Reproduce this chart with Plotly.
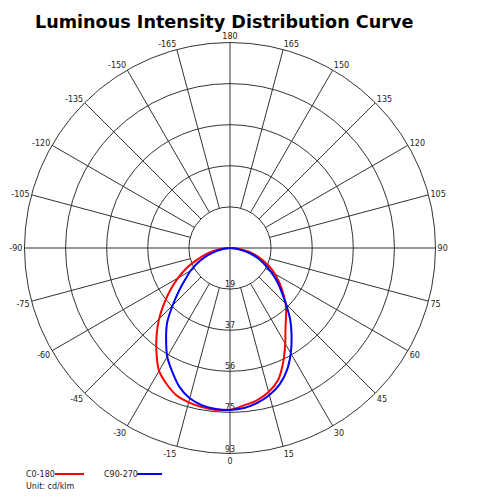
import plotly.graph_objects as go

# ---- data ----
angles = list(range(-90, 91, 5))
c0_180 = [0, 3, 7.2, 11.6, 16.1, 21.9, 27.1, 32.8, 38.8, 45.4, 51.7, 58, 64.2, 67.9, 70.9, 72.3, 73.1, 73.6,
          73.2, 71.5, 70, 67.5, 63.6, 57, 50, 43.8, 39.5, 35.6, 31.2, 27.2, 23.5, 19.5, 15.5, 11.6, 7.2, 3, 0]
c90_270 = [0, 2, 4.1, 8, 12.1, 16.5, 20.6, 24.7, 30.1, 36.7, 44.3, 50.4, 56.8, 61.8, 66.9, 70.4, 72.3, 73.1,
           73.3, 72.7, 71.2, 68.9, 65.7, 61, 55, 48.6, 42.4, 35.8, 30.3, 25.8, 21.2, 17.1, 13.3, 9.6, 5, 2.3, 0]
series_names = ["C0-180", "C90-270"]
series_colors = ["#ff0000", "#0000ff"]
r_max = 93
r_tickvals = [18.6, 37.2, 55.8, 74.4, 93]
r_ticktext = ["19", "37", "56", "75", "93"]
theta_ticks = list(range(0, 360, 15))
theta_text = [str(a) if a <= 180 else str(a - 360) for a in theta_ticks]
unit_text = "Unit: cd/klm"
title_text = "Luminous Intensity Distribution Curve"

GRID = "#333333"
FONT = "DejaVu Sans, Verdana, sans-serif"

# page has an 8px body margin: work in window pixels and convert
OFF = 8
W, H = 494 - 2 * OFF, 500 - 2 * OFF


def px(x):
    return (x - OFF) / W


def py(y):
    return 1 - (y - OFF) / H


fig = go.Figure()

# spokes (grid): only the main axes go through the center
sr, st = [], []
for a in theta_ticks:
    start = 0 if a % 90 == 0 else r_tickvals[0]
    sr += [start, r_max, None]
    st += [a, a, None]
fig.add_trace(go.Scatterpolar(r=sr, theta=st, mode="lines",
                              line=dict(color=GRID, width=1), hoverinfo="skip", showlegend=False))

for name, vals, col in zip(series_names, [c0_180, c90_270], series_colors):
    fig.add_trace(go.Scatterpolar(r=vals, theta=angles, mode="lines", name=name,
                                  line=dict(color=col, width=2, shape="spline", smoothing=1),
                                  showlegend=False))

# radial tick labels along the bottom axis
fig.add_trace(go.Scatterpolar(r=r_tickvals, theta=[0] * len(r_tickvals), mode="text",
                              text=r_ticktext, textposition="top center",
                              textfont=dict(size=8, color="#222", family=FONT),
                              hoverinfo="skip", showlegend=False))

cx, cy, R = 230, 248, 205.5
fig.update_layout(
    width=W, height=H,
    margin=dict(l=0, r=0, t=0, b=0),
    paper_bgcolor="white", plot_bgcolor="white",
    font=dict(family=FONT, size=8, color="#222"),
    title=dict(text=title_text, x=px(35), xanchor="left", y=py(22), yanchor="middle",
               font=dict(family=FONT, size=17.6, color="black", weight="bold")),
    polar=dict(
        domain=dict(x=[px(cx - R), px(cx + R)], y=[py(cy + R), py(cy - R)]),
        bgcolor="white",
        angularaxis=dict(rotation=-90, direction="counterclockwise",
                         tickvals=theta_ticks, ticktext=theta_text, ticks="",
                         showgrid=False, showline=True, linecolor=GRID, linewidth=1,
                         tickfont=dict(size=8, color="#222", family=FONT)),
        radialaxis=dict(range=[0, r_max], tickvals=r_tickvals, showticklabels=False,
                        ticks="", showline=False, showgrid=True, gridcolor=GRID, gridwidth=1),
    ),
)

# legend: text followed by line sample
leg_y = 474
items_x = [(24, 55, 84), (102, 137, 162)]
for (tx, lx0, lx1), name, col in zip(items_x, series_names, series_colors):
    fig.add_annotation(x=px(tx), y=py(leg_y), xref="paper", yref="paper", text=name,
                       showarrow=False, xanchor="left", yanchor="middle",
                       font=dict(size=8, color="#222", family=FONT))
    fig.add_shape(type="line", xref="paper", yref="paper", x0=px(lx0), x1=px(lx1),
                  y0=py(leg_y), y1=py(leg_y), line=dict(color=col, width=2))
fig.add_annotation(x=px(24), y=py(486.5), xref="paper", yref="paper", text=unit_text,
                   showarrow=False, xanchor="left", yanchor="middle",
                   font=dict(size=8, color="#222", family=FONT))

fig.write_html("out.html")
